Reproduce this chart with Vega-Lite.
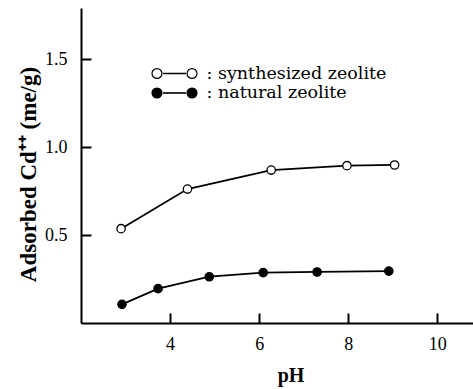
{
  "$schema": "https://vega.github.io/schema/vega-lite/v6.json",
  "width": 392,
  "height": 315,
  "autosize": "none",
  "padding": {"left": 81, "top": 8, "right": 0, "bottom": 66},
  "background": "white",
  "config": {"view": {"stroke": null}, "font": "Liberation Serif"},
  "data": {
    "values": [
      {"series": "synthesized zeolite", "pH": 2.9, "cd": 0.536},
      {"series": "synthesized zeolite", "pH": 4.39, "cd": 0.761},
      {"series": "synthesized zeolite", "pH": 6.27, "cd": 0.869},
      {"series": "synthesized zeolite", "pH": 7.97, "cd": 0.894},
      {"series": "synthesized zeolite", "pH": 9.04, "cd": 0.898},
      {"series": "natural zeolite", "pH": 2.92, "cd": 0.106},
      {"series": "natural zeolite", "pH": 3.73, "cd": 0.195},
      {"series": "natural zeolite", "pH": 4.88, "cd": 0.263},
      {"series": "natural zeolite", "pH": 6.09, "cd": 0.286},
      {"series": "natural zeolite", "pH": 7.3, "cd": 0.29},
      {"series": "natural zeolite", "pH": 8.91, "cd": 0.295}
    ]
  },
  "encoding": {
    "x": {
      "field": "pH", "type": "quantitative",
      "scale": {"domain": [2, 10.8], "nice": false, "zero": false},
      "axis": {
        "values": [4, 6, 8, 10], "grid": false,
        "domainColor": "black", "domainWidth": 2,
        "tickColor": "black", "tickWidth": 2, "tickSize": -10,
        "labelFont": "Liberation Serif", "labelFontSize": 18, "labelColor": "black",
        "labelPadding": 22, "labelFlush": false,
        "title": "pH", "titleFont": "Liberation Serif", "titleFontSize": 20, "titleFontWeight": "bold",
        "titleColor": "black", "titleX": 209.5, "titleY": 52, "titleBaseline": "middle", "titleAlign": "center"
      }
    },
    "y": {
      "field": "cd", "type": "quantitative",
      "scale": {"domain": [0, 1.79], "nice": false},
      "axis": {
        "values": [0.5, 1, 1.5], "format": ".1f", "grid": false,
        "domainColor": "black", "domainWidth": 2,
        "tickColor": "black", "tickWidth": 2, "tickSize": -10,
        "labelFont": "Liberation Serif", "labelFontSize": 18, "labelColor": "black",
        "labelPadding": 24, "labelFlush": false,
        "title": "Adsorbed Cd⁺⁺ (me/g)", "titleFont": "Liberation Serif", "titleFontSize": 23, "titleFontWeight": "bold",
        "titleColor": "black", "titleX": -53, "titleY": 166, "titleAngle": 270, "titleBaseline": "middle", "titleAlign": "center"
      }
    }
  },
  "layer": [
    {
      "mark": {"type": "line", "color": "black", "strokeWidth": 1.8},
      "encoding": {"detail": {"field": "series", "type": "nominal"}}
    },
    {
      "mark": {"type": "point", "shape": "circle", "size": 70, "filled": true, "stroke": "black", "strokeWidth": 1.3, "opacity": 1},
      "encoding": {
        "fill": {
          "field": "series", "type": "nominal",
          "scale": {"domain": ["synthesized zeolite", "natural zeolite"], "range": ["white", "black"]},
          "legend": {
            "orient": "none", "legendX": 84.5, "legendY": 56.5, "title": null, "padding": 0,
            "symbolType": "M -2.81,0 A 0.62,0.62 0 1,1 -1.57,0 A 0.62,0.62 0 1,1 -2.81,0 Z M -1.36,-0.03 L 1.36,-0.03 L 1.36,0.03 L -1.36,0.03 Z M 1.57,0 A 0.62,0.62 0 1,1 2.81,0 A 0.62,0.62 0 1,1 1.57,0 Z",
            "symbolSize": 256, "symbolStrokeColor": "black", "symbolStrokeWidth": 1.2, "symbolOpacity": 1,
            "labelFont": "DejaVu Serif", "labelFontSize": 17.5, "labelColor": "black", "labelLimit": 0,
            "labelExpr": "': ' + datum.label", "labelOffset": 23, "rowPadding": 1.5
          }
        }
      }
    }
  ]
}
